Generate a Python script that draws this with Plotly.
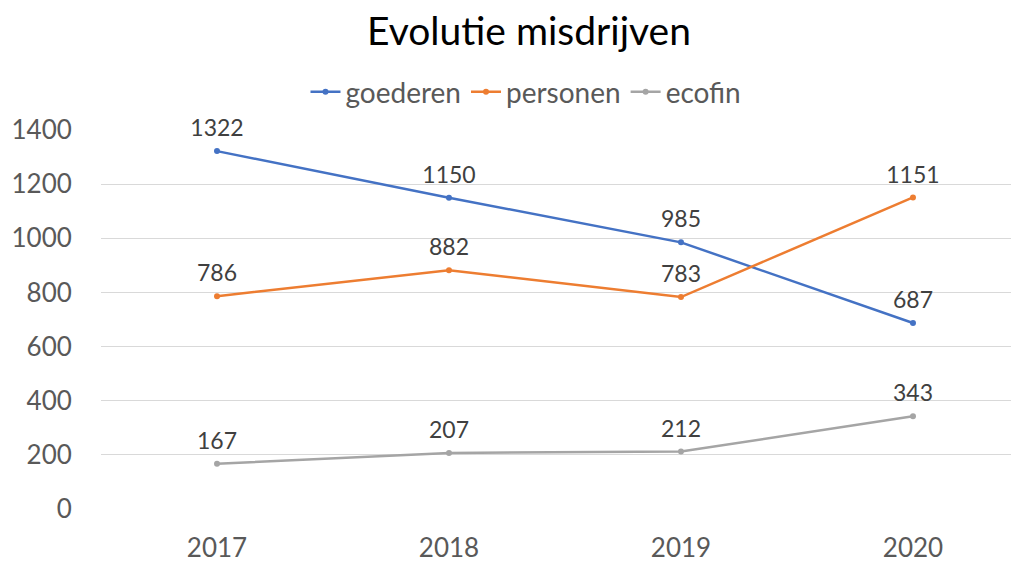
import plotly.graph_objects as go

years = ["2017", "2018", "2019", "2020"]
goederen = [1322, 1150, 985, 687]
personen = [786, 882, 783, 1151]
ecofin = [167, 207, 212, 343]
series_names = ["goederen", "personen", "ecofin"]
colors = ["#4472C4", "#ED7D31", "#A5A5A5"]

FONT = "Lato"
W, H = 1019, 563
OFF = 8  # page body margin offset

fig = go.Figure()
for name, vals, col in zip(series_names, [goederen, personen, ecofin], colors):
    fig.add_trace(go.Scatter(
        x=years, y=vals, name=name, mode="lines+markers",
        line=dict(color=col, width=2.5),
        marker=dict(color=col, size=6),
        cliponaxis=False,
    ))
for name, vals, col in zip(series_names, [goederen, personen, ecofin], colors):
    fig.add_trace(go.Scatter(
        x=years, y=vals, name=name, mode="markers+text", showlegend=False,
        marker=dict(color=col, size=13, opacity=0),
        text=[str(v) for v in vals], textposition="top center",
        textfont=dict(family=FONT, size=23, color="#404040"),
        hoverinfo="skip", cliponaxis=False,
    ))

fig.update_layout(
    width=W, height=H,
    margin=dict(l=101 - OFF, r=OFF, t=130 - OFF, b=H - (509 - OFF), autoexpand=False),
    paper_bgcolor="white", plot_bgcolor="white",
    font=dict(family=FONT, color="#595959"),
    title=dict(text="Evolutie misdrijven", x=(529 - OFF) / W, xref="container", xanchor="center",
               y=1 - (31 - OFF) / H, yref="container", yanchor="middle",
               font=dict(family=FONT, size=39, color="#000000")),
    legend=dict(orientation="h", x=(526 - OFF) / W, xref="container", xanchor="center",
                y=1 - (92 - OFF) / H, yref="container", yanchor="middle",
                font=dict(family=FONT, size=28, color="#595959"),
                itemwidth=30, tracegroupgap=0),
    showlegend=True,
)
fig.update_xaxes(type="category", range=[-0.5, 3.457], showgrid=False, zeroline=False,
                 showline=False, ticks="outside", ticklen=16, tickcolor="rgba(0,0,0,0)",
                 automargin=False,
                 tickfont=dict(family=FONT, size=26, color="#595959"))
fig.update_yaxes(range=[0, 1400], dtick=200, showgrid=True, gridcolor="#D9D9D9", gridwidth=1,
                 zeroline=False, showline=False, ticks="outside", ticklen=23,
                 tickcolor="rgba(0,0,0,0)", automargin=False,
                 tickfont=dict(family=FONT, size=26, color="#595959"))

fig.write_html("out.html")
